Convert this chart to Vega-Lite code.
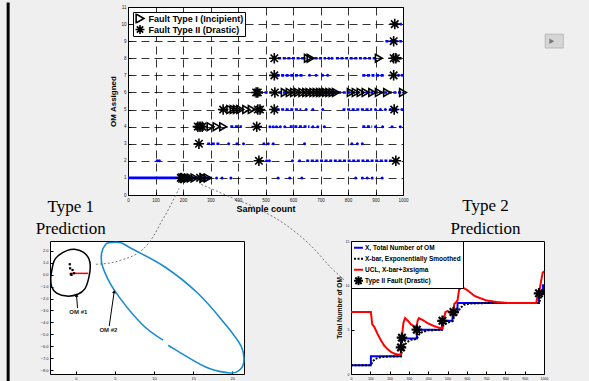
{
  "$schema": "https://vega.github.io/schema/vega-lite/v6.json",
  "background": "#efefef",
  "padding": {"left": 6, "top": 0, "right": 25, "bottom": 0},
  "spacing": -231,
  "resolve": {
    "scale": {"x": "independent", "y": "independent", "shape": "independent", "color": "independent", "strokeDash": "independent", "angle": "independent"},
    "legend": {"shape": "independent", "color": "independent", "strokeDash": "independent"}
  },
  "config": {
    "font": "Liberation Sans",
    "view": {"stroke": "black", "strokeWidth": 1, "fill": "white"},
    "axis": {"domain": false, "tickColor": "black", "tickSize": -3, "labelPadding": 5, "labelFontSize": 4.5, "labelColor": "#222", "labelFont": "Liberation Sans", "titleFont": "Liberation Sans", "titleFontWeight": "bold", "titleColor": "black", "grid": false, "labelFlush": false, "tickCount": 30},
    "legend": {"title": null, "strokeColor": "black", "fillColor": "white", "labelFont": "Liberation Sans", "labelFontWeight": "bold", "labelColor": "black"}
  },
  "datasets": {
    "mainSolid": [{"lvl": 1, "a": 0, "b": 300}],
    "mainDense": [
      {"lvl": 2, "a": 648, "b": 972}, {"lvl": 3, "a": 288, "b": 336},
      {"lvl": 4, "a": 372, "b": 414}, {"lvl": 4, "a": 588, "b": 660}, {"lvl": 4, "a": 852, "b": 888},
      {"lvl": 5, "a": 540, "b": 630}, {"lvl": 5, "a": 780, "b": 888},
      {"lvl": 6, "a": 480, "b": 1000},
      {"lvl": 7, "a": 540, "b": 636}, {"lvl": 7, "a": 852, "b": 936},
      {"lvl": 8, "a": 546, "b": 648}, {"lvl": 8, "a": 678, "b": 720}, {"lvl": 8, "a": 756, "b": 900}, {"lvl": 8, "a": 978, "b": 996},
      {"lvl": 9, "a": 936, "b": 996}, {"lvl": 10, "a": 972, "b": 996}
    ],
    "mainDots": [
      {"s": 322, "lvl": 1}, {"s": 342, "lvl": 1}, {"s": 374, "lvl": 1}, {"s": 546, "lvl": 1}, {"s": 588, "lvl": 1}, {"s": 632, "lvl": 1}, {"s": 828, "lvl": 1}, {"s": 852, "lvl": 1}, {"s": 870, "lvl": 1}, {"s": 888, "lvl": 1}, {"s": 924, "lvl": 1},
      {"s": 106, "lvl": 2}, {"s": 114, "lvl": 2}, {"s": 504, "lvl": 2}, {"s": 514, "lvl": 2}, {"s": 598, "lvl": 2}, {"s": 624, "lvl": 2},
      {"s": 366, "lvl": 3}, {"s": 396, "lvl": 3}, {"s": 420, "lvl": 3}, {"s": 494, "lvl": 3}, {"s": 510, "lvl": 3}, {"s": 528, "lvl": 3}, {"s": 642, "lvl": 3}, {"s": 814, "lvl": 3}, {"s": 834, "lvl": 3}, {"s": 852, "lvl": 3},
      {"s": 516, "lvl": 4}, {"s": 528, "lvl": 4}, {"s": 540, "lvl": 4}, {"s": 554, "lvl": 4}, {"s": 570, "lvl": 4}, {"s": 672, "lvl": 4}, {"s": 690, "lvl": 4}, {"s": 714, "lvl": 4}, {"s": 900, "lvl": 4}, {"s": 926, "lvl": 4}, {"s": 960, "lvl": 4}, {"s": 990, "lvl": 4},
      {"s": 648, "lvl": 5}, {"s": 672, "lvl": 5}, {"s": 708, "lvl": 5}, {"s": 900, "lvl": 5}, {"s": 918, "lvl": 5}, {"s": 936, "lvl": 5}, {"s": 954, "lvl": 5}, {"s": 975, "lvl": 5}, {"s": 996, "lvl": 5},
      {"s": 660, "lvl": 7}, {"s": 684, "lvl": 7}, {"s": 708, "lvl": 7}, {"s": 726, "lvl": 7}, {"s": 984, "lvl": 7}, {"s": 996, "lvl": 7},
      {"s": 730, "lvl": 8}, {"s": 742, "lvl": 8}, {"s": 990, "lvl": 8}
    ],
    "mainMarks": [
      {"s": 198, "lvl": 1, "type": "Fault Type I (Incipient)"}, {"s": 208, "lvl": 1, "type": "Fault Type I (Incipient)"}, {"s": 218, "lvl": 1, "type": "Fault Type I (Incipient)"}, {"s": 228, "lvl": 1, "type": "Fault Type I (Incipient)"}, {"s": 242, "lvl": 1, "type": "Fault Type I (Incipient)"}, {"s": 276, "lvl": 1, "type": "Fault Type I (Incipient)"}, {"s": 290, "lvl": 1, "type": "Fault Type I (Incipient)"},
      {"s": 300, "lvl": 4, "type": "Fault Type I (Incipient)"}, {"s": 322, "lvl": 4, "type": "Fault Type I (Incipient)"}, {"s": 346, "lvl": 4, "type": "Fault Type I (Incipient)"},
      {"s": 372, "lvl": 5, "type": "Fault Type I (Incipient)"}, {"s": 384, "lvl": 5, "type": "Fault Type I (Incipient)"}, {"s": 396, "lvl": 5, "type": "Fault Type I (Incipient)"}, {"s": 408, "lvl": 5, "type": "Fault Type I (Incipient)"}, {"s": 430, "lvl": 5, "type": "Fault Type I (Incipient)"}, {"s": 450, "lvl": 5, "type": "Fault Type I (Incipient)"},
      {"s": 570, "lvl": 6, "type": "Fault Type I (Incipient)"}, {"s": 588, "lvl": 6, "type": "Fault Type I (Incipient)"}, {"s": 604, "lvl": 6, "type": "Fault Type I (Incipient)"}, {"s": 618, "lvl": 6, "type": "Fault Type I (Incipient)"}, {"s": 634, "lvl": 6, "type": "Fault Type I (Incipient)"}, {"s": 648, "lvl": 6, "type": "Fault Type I (Incipient)"}, {"s": 660, "lvl": 6, "type": "Fault Type I (Incipient)"}, {"s": 674, "lvl": 6, "type": "Fault Type I (Incipient)"}, {"s": 686, "lvl": 6, "type": "Fault Type I (Incipient)"}, {"s": 698, "lvl": 6, "type": "Fault Type I (Incipient)"}, {"s": 708, "lvl": 6, "type": "Fault Type I (Incipient)"}, {"s": 720, "lvl": 6, "type": "Fault Type I (Incipient)"}, {"s": 732, "lvl": 6, "type": "Fault Type I (Incipient)"}, {"s": 744, "lvl": 6, "type": "Fault Type I (Incipient)"}, {"s": 756, "lvl": 6, "type": "Fault Type I (Incipient)"}, {"s": 810, "lvl": 6, "type": "Fault Type I (Incipient)"}, {"s": 828, "lvl": 6, "type": "Fault Type I (Incipient)"}, {"s": 846, "lvl": 6, "type": "Fault Type I (Incipient)"}, {"s": 864, "lvl": 6, "type": "Fault Type I (Incipient)"}, {"s": 888, "lvl": 6, "type": "Fault Type I (Incipient)"}, {"s": 912, "lvl": 6, "type": "Fault Type I (Incipient)"}, {"s": 942, "lvl": 6, "type": "Fault Type I (Incipient)"}, {"s": 1000, "lvl": 6, "type": "Fault Type I (Incipient)"},
      {"s": 654, "lvl": 8, "type": "Fault Type I (Incipient)"}, {"s": 664, "lvl": 8, "type": "Fault Type I (Incipient)"}, {"s": 912, "lvl": 8, "type": "Fault Type I (Incipient)"},
      {"s": 192, "lvl": 1, "type": "Fault Type II (Drastic)"}, {"s": 262, "lvl": 1, "type": "Fault Type II (Drastic)"},
      {"s": 476, "lvl": 2, "type": "Fault Type II (Drastic)"}, {"s": 974, "lvl": 2, "type": "Fault Type II (Drastic)"},
      {"s": 258, "lvl": 3, "type": "Fault Type II (Drastic)"},
      {"s": 254, "lvl": 4, "type": "Fault Type II (Drastic)"}, {"s": 262, "lvl": 4, "type": "Fault Type II (Drastic)"}, {"s": 270, "lvl": 4, "type": "Fault Type II (Drastic)"}, {"s": 468, "lvl": 4, "type": "Fault Type II (Drastic)"},
      {"s": 346, "lvl": 5, "type": "Fault Type II (Drastic)"}, {"s": 472, "lvl": 5, "type": "Fault Type II (Drastic)"}, {"s": 480, "lvl": 5, "type": "Fault Type II (Drastic)"}, {"s": 532, "lvl": 5, "type": "Fault Type II (Drastic)"}, {"s": 968, "lvl": 5, "type": "Fault Type II (Drastic)"},
      {"s": 466, "lvl": 6, "type": "Fault Type II (Drastic)"}, {"s": 472, "lvl": 6, "type": "Fault Type II (Drastic)"}, {"s": 534, "lvl": 6, "type": "Fault Type II (Drastic)"},
      {"s": 532, "lvl": 7, "type": "Fault Type II (Drastic)"}, {"s": 966, "lvl": 7, "type": "Fault Type II (Drastic)"},
      {"s": 532, "lvl": 8, "type": "Fault Type II (Drastic)"}, {"s": 966, "lvl": 8, "type": "Fault Type II (Drastic)"}, {"s": 974, "lvl": 8, "type": "Fault Type II (Drastic)"},
      {"s": 966, "lvl": 9, "type": "Fault Type II (Drastic)"},
      {"s": 970, "lvl": 10, "type": "Fault Type II (Drastic)"}
    ],
    "extent": [{"s": 0, "lvl": 0, "lvl2": -2.05}],
    "button": [{"a": 1517, "b": 1583, "lo": 8.6, "hi": 9.41, "s": 1541, "lvl": 9.0}],
    "border": [{"x": -8.65, "y": 22.7, "y2": -9.2}],
    "connectors": [
      {"c": 1, "i": 0, "x": 2.56, "y": 0.86}, {"c": 1, "i": 1, "x": 4.49, "y": 0.98}, {"c": 1, "i": 2, "x": 6.15, "y": 1.28}, {"c": 1, "i": 3, "x": 7.69, "y": 1.69}, {"c": 1, "i": 4, "x": 8.97, "y": 2.36}, {"c": 1, "i": 5, "x": 10.0, "y": 3.28}, {"c": 1, "i": 6, "x": 10.9, "y": 4.36}, {"c": 1, "i": 7, "x": 11.92, "y": 5.53}, {"c": 1, "i": 8, "x": 13.2, "y": 7.19},
      {"c": 2, "i": 0, "x": 16.03, "y": 7.53}, {"c": 2, "i": 1, "x": 19.87, "y": 6.44}, {"c": 2, "i": 2, "x": 23.46, "y": 5.44}, {"c": 2, "i": 3, "x": 26.92, "y": 4.11}, {"c": 2, "i": 4, "x": 30.13, "y": 2.36}, {"c": 2, "i": 5, "x": 32.69, "y": 0.53}, {"c": 2, "i": 6, "x": 34.36, "y": -0.48}
    ],
    "titles1": [{"x": -0.64, "y": 5.23, "t": "Type 1"}, {"x": -0.64, "y": 3.36, "t": "Prediction"}],
    "titles2": [{"s": 697, "v": 18.33, "t": "Type 2"}, {"s": 697, "v": 15.79, "t": "Prediction"}],
    "ell1": [
      {"i": 0, "x": -3.2, "y": -0.15}, {"i": 1, "x": -2.8, "y": 1.1}, {"i": 2, "x": -2.2, "y": 1.6}, {"i": 3, "x": -1.15, "y": 2.0}, {"i": 4, "x": 0, "y": 2.1}, {"i": 5, "x": 1.0, "y": 1.85}, {"i": 6, "x": 1.65, "y": 1.35}, {"i": 7, "x": 1.85, "y": 0.7}, {"i": 8, "x": 1.65, "y": -0.3}, {"i": 9, "x": 1.15, "y": -1.2}, {"i": 10, "x": 0.25, "y": -1.65}, {"i": 11, "x": -1.15, "y": -1.8}, {"i": 12, "x": -2.45, "y": -1.55}, {"i": 13, "x": -3.1, "y": -1.0}, {"i": 14, "x": -3.2, "y": -0.15}
    ],
    "ell2": [
      {"i": 0, "x": 11.15, "y": -5.47}, {"i": 1, "x": 8.33, "y": -4.06}, {"i": 2, "x": 4.9, "y": -1.28}, {"i": 3, "x": 3.42, "y": 0.67}, {"i": 4, "x": 3.3, "y": 1.78}, {"i": 5, "x": 3.85, "y": 2.55}, {"i": 6, "x": 4.5, "y": 2.67}, {"i": 7, "x": 5.77, "y": 2.65}, {"i": 8, "x": 7.05, "y": 2.19}, {"i": 9, "x": 11.3, "y": 0.67}, {"i": 10, "x": 15.6, "y": -1.56}, {"i": 11, "x": 19.0, "y": -4.06}, {"i": 12, "x": 21.15, "y": -6.0}, {"i": 13, "x": 21.45, "y": -7.4}, {"i": 14, "x": 20.7, "y": -8.08}, {"i": 15, "x": 19.45, "y": -8.2}, {"i": 16, "x": 16.45, "y": -7.67}, {"i": 17, "x": 11.8, "y": -5.9}
    ],
    "redSeg": [{"x": -0.73, "y": 0.1, "x2": 1.6}],
    "blackPts": [{"x": -0.77, "y": 0.86}, {"x": -0.73, "y": 0.52}, {"x": -0.42, "y": 0.38}, {"x": -0.64, "y": 0.03}, {"x": -0.22, "y": 0.11}, {"x": -0.55, "y": -0.03}],
    "arrows": [{"id": 1, "x": 0.22, "y": -2.8}, {"id": 1, "x": 0.09, "y": -1.75}, {"id": 2, "x": 4.27, "y": -4.3}, {"id": 2, "x": 4.9, "y": -1.45}],
    "heads": [{"x": 0.09, "y": -1.72, "ang": -4}, {"x": 4.9, "y": -1.42, "ang": 8}],
    "labels": [{"x": 0.32, "y": -3.1, "t": "OM #1"}, {"x": 4.17, "y": -4.6, "t": "OM #2"}],
    "series": [
      {"s": 0, "v": 1, "series": "X, Total Number of OM"}, {"s": 103, "v": 2, "series": "X, Total Number of OM"}, {"s": 259, "v": 4, "series": "X, Total Number of OM"}, {"s": 341, "v": 5, "series": "X, Total Number of OM"}, {"s": 471, "v": 6, "series": "X, Total Number of OM"}, {"s": 526, "v": 7, "series": "X, Total Number of OM"}, {"s": 552, "v": 8, "series": "X, Total Number of OM"}, {"s": 974, "v": 9, "series": "X, Total Number of OM"}, {"s": 995, "v": 10, "series": "X, Total Number of OM"}, {"s": 1000, "v": 10, "series": "X, Total Number of OM"},
      {"s": 0, "v": 1, "series": "X-bar, Exponentially Smoothed"}, {"s": 103, "v": 1, "series": "X-bar, Exponentially Smoothed"}, {"s": 112, "v": 1.4, "series": "X-bar, Exponentially Smoothed"}, {"s": 125, "v": 1.7, "series": "X-bar, Exponentially Smoothed"}, {"s": 145, "v": 1.85, "series": "X-bar, Exponentially Smoothed"}, {"s": 175, "v": 1.95, "series": "X-bar, Exponentially Smoothed"}, {"s": 259, "v": 2, "series": "X-bar, Exponentially Smoothed"}, {"s": 264, "v": 2.7, "series": "X-bar, Exponentially Smoothed"}, {"s": 275, "v": 3.2, "series": "X-bar, Exponentially Smoothed"}, {"s": 290, "v": 3.6, "series": "X-bar, Exponentially Smoothed"}, {"s": 310, "v": 3.85, "series": "X-bar, Exponentially Smoothed"}, {"s": 341, "v": 3.95, "series": "X-bar, Exponentially Smoothed"}, {"s": 350, "v": 4.4, "series": "X-bar, Exponentially Smoothed"}, {"s": 370, "v": 4.75, "series": "X-bar, Exponentially Smoothed"}, {"s": 400, "v": 4.92, "series": "X-bar, Exponentially Smoothed"}, {"s": 471, "v": 5.0, "series": "X-bar, Exponentially Smoothed"}, {"s": 480, "v": 5.5, "series": "X-bar, Exponentially Smoothed"}, {"s": 500, "v": 5.8, "series": "X-bar, Exponentially Smoothed"}, {"s": 526, "v": 5.95, "series": "X-bar, Exponentially Smoothed"}, {"s": 535, "v": 6.5, "series": "X-bar, Exponentially Smoothed"}, {"s": 552, "v": 6.9, "series": "X-bar, Exponentially Smoothed"}, {"s": 565, "v": 7.4, "series": "X-bar, Exponentially Smoothed"}, {"s": 585, "v": 7.8, "series": "X-bar, Exponentially Smoothed"}, {"s": 620, "v": 7.95, "series": "X-bar, Exponentially Smoothed"}, {"s": 700, "v": 8, "series": "X-bar, Exponentially Smoothed"}, {"s": 974, "v": 8, "series": "X-bar, Exponentially Smoothed"}, {"s": 982, "v": 8.5, "series": "X-bar, Exponentially Smoothed"}, {"s": 992, "v": 9.3, "series": "X-bar, Exponentially Smoothed"}, {"s": 1000, "v": 9.7, "series": "X-bar, Exponentially Smoothed"},
      {"s": 0, "v": 7.0, "series": "UCL, X-bar+3xsigma"}, {"s": 103, "v": 7.0, "series": "UCL, X-bar+3xsigma"}, {"s": 110, "v": 5.6, "series": "UCL, X-bar+3xsigma"}, {"s": 121, "v": 5.3, "series": "UCL, X-bar+3xsigma"}, {"s": 138, "v": 4.5, "series": "UCL, X-bar+3xsigma"}, {"s": 155, "v": 3.8, "series": "UCL, X-bar+3xsigma"}, {"s": 172, "v": 3.2, "series": "UCL, X-bar+3xsigma"}, {"s": 190, "v": 2.8, "series": "UCL, X-bar+3xsigma"}, {"s": 207, "v": 2.5, "series": "UCL, X-bar+3xsigma"}, {"s": 224, "v": 2.3, "series": "UCL, X-bar+3xsigma"}, {"s": 241, "v": 2.2, "series": "UCL, X-bar+3xsigma"}, {"s": 259, "v": 2.2, "series": "UCL, X-bar+3xsigma"}, {"s": 262, "v": 3.5, "series": "UCL, X-bar+3xsigma"}, {"s": 265, "v": 4.5, "series": "UCL, X-bar+3xsigma"}, {"s": 272, "v": 5.8, "series": "UCL, X-bar+3xsigma"}, {"s": 280, "v": 6.3, "series": "UCL, X-bar+3xsigma"}, {"s": 295, "v": 6.0, "series": "UCL, X-bar+3xsigma"}, {"s": 310, "v": 5.6, "series": "UCL, X-bar+3xsigma"}, {"s": 325, "v": 5.4, "series": "UCL, X-bar+3xsigma"}, {"s": 340, "v": 5.3, "series": "UCL, X-bar+3xsigma"}, {"s": 345, "v": 6.0, "series": "UCL, X-bar+3xsigma"}, {"s": 352, "v": 6.3, "series": "UCL, X-bar+3xsigma"}, {"s": 370, "v": 6.1, "series": "UCL, X-bar+3xsigma"}, {"s": 400, "v": 5.7, "series": "UCL, X-bar+3xsigma"}, {"s": 430, "v": 5.4, "series": "UCL, X-bar+3xsigma"}, {"s": 460, "v": 5.2, "series": "UCL, X-bar+3xsigma"}, {"s": 474, "v": 5.1, "series": "UCL, X-bar+3xsigma"}, {"s": 480, "v": 6.2, "series": "UCL, X-bar+3xsigma"}, {"s": 490, "v": 7.0, "series": "UCL, X-bar+3xsigma"}, {"s": 500, "v": 7.1, "series": "UCL, X-bar+3xsigma"}, {"s": 515, "v": 6.8, "series": "UCL, X-bar+3xsigma"}, {"s": 530, "v": 6.8, "series": "UCL, X-bar+3xsigma"}, {"s": 535, "v": 7.9, "series": "UCL, X-bar+3xsigma"}, {"s": 545, "v": 8.1, "series": "UCL, X-bar+3xsigma"}, {"s": 552, "v": 8.3, "series": "UCL, X-bar+3xsigma"}, {"s": 560, "v": 9.5, "series": "UCL, X-bar+3xsigma"}, {"s": 575, "v": 9.8, "series": "UCL, X-bar+3xsigma"}, {"s": 600, "v": 9.5, "series": "UCL, X-bar+3xsigma"}, {"s": 640, "v": 8.8, "series": "UCL, X-bar+3xsigma"}, {"s": 700, "v": 8.3, "series": "UCL, X-bar+3xsigma"}, {"s": 760, "v": 8.1, "series": "UCL, X-bar+3xsigma"}, {"s": 820, "v": 8.0, "series": "UCL, X-bar+3xsigma"}, {"s": 960, "v": 8.0, "series": "UCL, X-bar+3xsigma"}, {"s": 965, "v": 8.6, "series": "UCL, X-bar+3xsigma"}, {"s": 975, "v": 9.2, "series": "UCL, X-bar+3xsigma"}, {"s": 985, "v": 10.5, "series": "UCL, X-bar+3xsigma"}, {"s": 993, "v": 11.4, "series": "UCL, X-bar+3xsigma"}, {"s": 1000, "v": 11.6, "series": "UCL, X-bar+3xsigma"}
    ],
    "faults2": [
      {"s": 259, "v": 3.0, "series": "Type II  Fault (Drastic)"}, {"s": 264, "v": 4.1, "series": "Type II  Fault (Drastic)"}, {"s": 341, "v": 5.0, "series": "Type II  Fault (Drastic)"}, {"s": 474, "v": 6.0, "series": "Type II  Fault (Drastic)"}, {"s": 531, "v": 7.0, "series": "Type II  Fault (Drastic)"}, {"s": 974, "v": 9.1, "series": "Type II  Fault (Drastic)"}
    ]
  },
  "vconcat": [
    {
      "bounds": "flush",
      "spacing": 10,
      "resolve": {"scale": {"x": "independent", "y": "independent", "shape": "independent"}, "legend": {"shape": "independent"}},
      "hconcat": [
        {
          "width": 68, "height": 188,
          "view": {"stroke": null, "fill": null},
          "data": {"values": [{"a": 0}]},
          "mark": {"type": "point", "opacity": 0},
          "encoding": {}
        },
        {
          "width": 275, "height": 188,
          "layer": [
            {
              "data": {"name": "mainSolid"},
              "mark": {"type": "rule", "color": "#0000ff", "strokeWidth": 2.6},
              "encoding": {
                "x": {"field": "a", "type": "quantitative", "scale": {"domain": [0, 1000], "nice": false},
                  "axis": {"values": [0, 100, 200, 300, 400, 500, 600, 700, 800, 900, 1000], "tickCount": 30, "format": "d", "grid": true, "gridDash": [8, 5], "gridColor": "black", "gridWidth": 0.8, "gridOpacity": 1, "title": "Sample count", "titleFontSize": 9, "titlePadding": 3}},
                "x2": {"field": "b"},
                "y": {"field": "lvl", "type": "quantitative", "scale": {"domain": [0, 11], "nice": false},
                  "axis": {"values": [0, 1, 2, 3, 4, 5, 6, 7, 8, 9, 10, 11], "tickCount": 30, "format": "d", "grid": true, "gridDash": [8, 5], "gridColor": "black", "gridWidth": 0.8, "gridOpacity": 1, "title": "OM Assigned", "titleFontSize": 8, "titlePadding": 3}}
              }
            },
            {
              "data": {"name": "mainDense"},
              "mark": {"type": "rule", "color": "#0000ff", "strokeWidth": 2.6, "strokeDash": [3, 1.6]},
              "encoding": {
                "x": {"field": "a", "type": "quantitative"},
                "x2": {"field": "b"},
                "y": {"field": "lvl", "type": "quantitative"}
              }
            },
            {
              "data": {"name": "mainDots"},
              "mark": {"type": "point", "filled": true, "color": "#0000ff", "size": 9, "opacity": 1},
              "encoding": {
                "x": {"field": "s", "type": "quantitative"},
                "y": {"field": "lvl", "type": "quantitative"}
              }
            },
            {
              "data": {"name": "mainMarks"},
              "transform": [{"filter": "datum.type === 'Fault Type I (Incipient)'"}],
              "mark": {"type": "point", "filled": false, "stroke": "black", "strokeWidth": 1.6, "opacity": 1, "size": 60},
              "encoding": {
                "x": {"field": "s", "type": "quantitative"},
                "y": {"field": "lvl", "type": "quantitative"},
                "shape": {"field": "type", "type": "nominal",
                  "scale": {"domain": ["Fault Type I (Incipient)", "Fault Type II (Drastic)"], "range": ["triangle-right", "M-1,0L1,0M0,-1L0,1M-0.71,-0.71L0.71,0.71M-0.71,0.71L0.71,-0.71"]},
                  "legend": {"orient": "top-left", "offset": 5, "padding": 1.5, "labelFontSize": 9, "symbolSize": 80, "symbolStrokeWidth": 1.6, "symbolStrokeColor": "black", "symbolFillColor": "transparent", "rowPadding": 1, "clipHeight": 10, "labelOffset": 3, "cornerRadius": 0}}
              }
            },
            {
              "data": {"name": "mainMarks"},
              "transform": [{"filter": "datum.type === 'Fault Type II (Drastic)'"}],
              "mark": {"type": "point", "filled": false, "stroke": "black", "strokeWidth": 1.6, "opacity": 1, "size": 110},
              "encoding": {
                "x": {"field": "s", "type": "quantitative"},
                "y": {"field": "lvl", "type": "quantitative"},
                "shape": {"field": "type", "type": "nominal"}
              }
            },
            {
              "data": {"name": "extent"},
              "mark": {"type": "rule", "opacity": 0, "strokeWidth": 1, "clip": false},
              "encoding": {
                "x": {"field": "s", "type": "quantitative"},
                "y": {"field": "lvl", "type": "quantitative"},
                "y2": {"field": "lvl2"}
              }
            },
            {
              "data": {"name": "button"},
              "mark": {"type": "rect", "fill": "#d6d6d6", "stroke": "#b0b0b0", "strokeWidth": 0.8, "clip": false},
              "encoding": {
                "x": {"field": "a", "type": "quantitative"},
                "x2": {"field": "b"},
                "y": {"field": "lo", "type": "quantitative"},
                "y2": {"field": "hi"}
              }
            },
            {
              "data": {"name": "button"},
              "mark": {"type": "point", "shape": "triangle-right", "filled": true, "color": "#777777", "size": 30, "opacity": 1, "clip": false},
              "encoding": {
                "x": {"field": "s", "type": "quantitative"},
                "y": {"field": "lvl", "type": "quantitative"}
              }
            }
          ]
        }
      ]
    },
    {
      "bounds": "flush",
      "spacing": 10,
      "resolve": {"scale": {"x": "independent", "y": "independent", "shape": "independent", "color": "independent", "strokeDash": "independent", "angle": "independent"}, "legend": {"shape": "independent", "color": "independent", "strokeDash": "independent"}},
      "hconcat": [
        {
          "width": 194, "height": 133,
          "layer": [
            {
              "data": {"name": "border"},
              "mark": {"type": "rule", "color": "black", "strokeWidth": 3, "clip": false},
              "encoding": {
                "x": {"field": "x", "type": "quantitative", "scale": {"domain": [-3.3, 21.5], "nice": false, "zero": false},
                  "axis": {"values": [0, 5, 10, 15, 20], "tickCount": 30, "title": null, "labelFontSize": 4}},
                "y": {"field": "y", "type": "quantitative", "scale": {"domain": [-8.3, 2.8], "nice": false, "zero": false},
                  "axis": {"values": [-8, -7, -6, -5, -4, -3, -2, -1, 0, 1, 2], "tickCount": 30, "title": null, "labelFontSize": 4}},
                "y2": {"field": "y2"}
              }
            },
            {
              "data": {"name": "connectors"},
              "mark": {"type": "line", "color": "#555555", "strokeWidth": 0.8, "strokeDash": [2, 2], "clip": false, "interpolate": "monotone"},
              "encoding": {
                "x": {"field": "x", "type": "quantitative"},
                "y": {"field": "y", "type": "quantitative"},
                "detail": {"field": "c"},
                "order": {"field": "i"}
              }
            },
            {
              "data": {"name": "titles1"},
              "mark": {"type": "text", "font": "Liberation Serif", "fontSize": 17, "color": "black", "align": "center", "baseline": "alphabetic", "clip": false},
              "encoding": {
                "x": {"field": "x", "type": "quantitative"},
                "y": {"field": "y", "type": "quantitative"},
                "text": {"field": "t"}
              }
            },
            {
              "data": {"name": "ell1"},
              "mark": {"type": "line", "color": "black", "strokeWidth": 1.5, "interpolate": "cardinal"},
              "encoding": {
                "x": {"field": "x", "type": "quantitative"},
                "y": {"field": "y", "type": "quantitative"},
                "order": {"field": "i"}
              }
            },
            {
              "data": {"name": "ell2"},
              "mark": {"type": "line", "color": "#1b8bd0", "strokeWidth": 1.6, "interpolate": "cardinal", "clip": false},
              "encoding": {
                "x": {"field": "x", "type": "quantitative"},
                "y": {"field": "y", "type": "quantitative"},
                "order": {"field": "i"}
              }
            },
            {
              "data": {"name": "redSeg"},
              "mark": {"type": "rule", "color": "#ff0000", "strokeWidth": 1.5},
              "encoding": {
                "x": {"field": "x", "type": "quantitative"},
                "x2": {"field": "x2"},
                "y": {"field": "y", "type": "quantitative"}
              }
            },
            {
              "data": {"name": "blackPts"},
              "mark": {"type": "square", "color": "black", "size": 5, "opacity": 1},
              "encoding": {
                "x": {"field": "x", "type": "quantitative"},
                "y": {"field": "y", "type": "quantitative"}
              }
            },
            {
              "data": {"name": "arrows"},
              "mark": {"type": "line", "color": "black", "strokeWidth": 1},
              "encoding": {
                "x": {"field": "x", "type": "quantitative"},
                "y": {"field": "y", "type": "quantitative"},
                "detail": {"field": "id"}
              }
            },
            {
              "data": {"name": "heads"},
              "mark": {"type": "point", "shape": "triangle-up", "filled": true, "color": "black", "size": 14, "opacity": 1},
              "encoding": {
                "x": {"field": "x", "type": "quantitative"},
                "y": {"field": "y", "type": "quantitative"},
                "angle": {"field": "ang", "type": "quantitative", "scale": null}
              }
            },
            {
              "data": {"name": "labels"},
              "mark": {"type": "text", "fontSize": 6, "fontWeight": "bold", "color": "#222", "font": "Liberation Sans"},
              "encoding": {
                "x": {"field": "x", "type": "quantitative"},
                "y": {"field": "y", "type": "quantitative"},
                "text": {"field": "t"}
              }
            }
          ]
        },
        {
          "width": 87, "height": 133,
          "view": {"stroke": null, "fill": null},
          "data": {"values": [{"a": 0}]},
          "mark": {"type": "point", "opacity": 0},
          "encoding": {}
        },
        {
          "width": 193, "height": 133,
          "layer": [
            {
              "data": {"name": "series"},
              "transform": [{"filter": "datum.series === 'X, Total Number of OM'"}],
              "mark": {"type": "line", "strokeWidth": 2, "interpolate": "step-after"},
              "encoding": {
                "x": {"field": "s", "type": "quantitative", "scale": {"domain": [0, 1000], "nice": false},
                  "axis": {"values": [0, 100, 200, 300, 400, 500, 600, 700, 800, 900, 1000], "tickCount": 30, "format": "d", "title": "Sample Count", "titleFontSize": 8, "titlePadding": 0, "labelFontSize": 3.5}},
                "y": {"field": "v", "type": "quantitative", "scale": {"domain": [0, 15], "nice": false},
                  "axis": {"values": [0, 5, 10, 15], "tickCount": 30, "format": "d", "title": "Total Number of OM", "titleFontSize": 6.5, "titlePadding": 3, "labelFontSize": 3.5}},
                "color": {"field": "series", "type": "nominal",
                  "scale": {"domain": ["X, Total Number of OM", "X-bar, Exponentially Smoothed", "UCL, X-bar+3xsigma", "Type II  Fault (Drastic)"], "range": ["#0000ff", "black", "#ff0000", "black"]},
                  "legend": {"orient": "top-left", "offset": 0, "padding": 2, "labelFontSize": 6.5, "symbolSize": 80, "symbolStrokeWidth": 2, "rowPadding": 1, "clipHeight": 9.5, "labelOffset": 1, "cornerRadius": 0}},
                "strokeDash": {"field": "series", "type": "nominal",
                  "scale": {"domain": ["X, Total Number of OM", "X-bar, Exponentially Smoothed", "UCL, X-bar+3xsigma", "Type II  Fault (Drastic)"], "range": [[1, 0], [2, 1.5], [1, 0], [1, 0]]}}
              }
            },
            {
              "data": {"name": "series"},
              "transform": [{"filter": "datum.series !== 'X, Total Number of OM'"}],
              "mark": {"type": "line", "strokeWidth": 2},
              "encoding": {
                "x": {"field": "s", "type": "quantitative"},
                "y": {"field": "v", "type": "quantitative"},
                "color": {"field": "series", "type": "nominal"},
                "strokeDash": {"field": "series", "type": "nominal"}
              }
            },
            {
              "data": {"name": "faults2"},
              "mark": {"type": "point", "filled": false, "strokeWidth": 2.2, "size": 110, "opacity": 1},
              "encoding": {
                "x": {"field": "s", "type": "quantitative"},
                "y": {"field": "v", "type": "quantitative"},
                "color": {"field": "series", "type": "nominal"},
                "shape": {"field": "series", "type": "nominal",
                  "scale": {"domain": ["X, Total Number of OM", "X-bar, Exponentially Smoothed", "UCL, X-bar+3xsigma", "Type II  Fault (Drastic)"], "range": ["stroke", "stroke", "stroke", "M-1,0L1,0M0,-1L0,1M-0.71,-0.71L0.71,0.71M-0.71,0.71L0.71,-0.71"]}}
              }
            },
            {
              "data": {"name": "titles2"},
              "mark": {"type": "text", "font": "Liberation Serif", "fontSize": 17, "color": "black", "align": "center", "baseline": "alphabetic", "clip": false},
              "encoding": {
                "x": {"field": "s", "type": "quantitative"},
                "y": {"field": "v", "type": "quantitative"},
                "text": {"field": "t"}
              }
            }
          ]
        }
      ]
    }
  ]
}
